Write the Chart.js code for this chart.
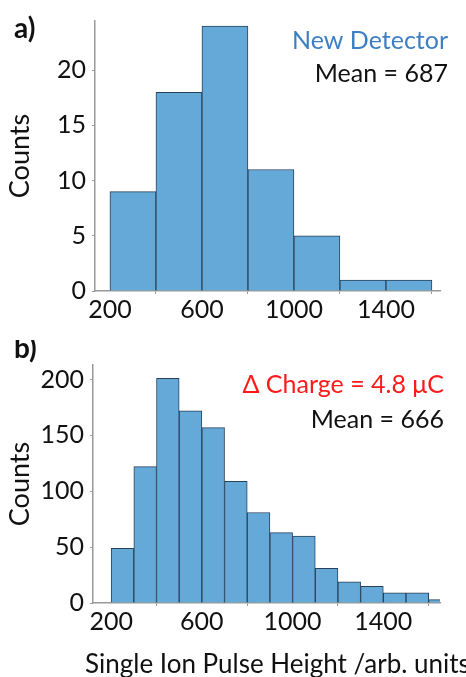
<!DOCTYPE html>
<html>
<head>
<meta charset="utf-8">
<script src="https://cdn.jsdelivr.net/npm/chart.js@4"></script>
<style>
  body { margin: 0; background: #fff; }
  #wrap { position: relative; width: 466px; height: 677px; overflow: hidden; }
  .box { position: absolute; left: 0; width: 466px; }
</style>
</head>
<body>
<div id="wrap">
  <div class="box" style="top:0;height:330px"><canvas id="chartA"></canvas></div>
  <div class="box" style="top:340px;height:337px"><canvas id="chartB"></canvas></div>
</div>
<script>
// a) new detector, bins 200 wide
const binCentersA = [300, 500, 700, 900, 1100, 1300, 1500]
const countsA = [9, 18, 24, 11, 5, 1, 1]
const yTicksA = [0, 5, 10, 15, 20]

// b) delta charge = 4.8 uC, bins 100 wide
const binCentersB = [250, 350, 450, 550, 650, 750, 850, 950, 1050, 1150, 1250, 1350, 1450, 1550, 1650]
const countsB = [49, 122, 201, 172, 157, 109, 81, 63, 60, 31, 19, 15, 9, 9, 3]
const yTicksB = [0, 50, 100, 150, 200]

const xTicks = [200, 600, 1000, 1400]

const FONT = 'Lato, "Open Sans", sans-serif'
const FILL = '#65a9d8'
const EDGE = '#27435c'
const AXIS = '#9a9a9a'

// draws free text (panel letter, notes, x title) on the canvas
const notesPlugin = {
  id: 'notes',
  afterDraw(chart, args, opts) {
    const ctx = chart.ctx
    ctx.save()
    ctx.textBaseline = 'middle';
    (opts.items || []).forEach(t => {
      ctx.font = t.font
      ctx.fillStyle = t.color
      ctx.textAlign = t.align || 'left'
      ctx.fillText(t.text, t.x, t.y)
    })
    ctx.restore()
  }
}

function makeHist(id, centers, counts, cfg) {
  const data = {
    datasets: [{
      data: centers.map((c, i) => ({ x: c, y: counts[i] })),
      backgroundColor: FILL,
      borderColor: EDGE,
      borderWidth: 1,
      barPercentage: 1,
      categoryPercentage: 1
    }]
  }
  const config = {
    type: 'bar',
    data: data,
    options: {
      responsive: true,
      maintainAspectRatio: false,
      animation: false,
      layout: { padding: { left: 0, right: 26, top: cfg.top, bottom: 0 } },
      plugins: {
        legend: { display: false },
        tooltip: { enabled: false },
        notes: { items: cfg.notes }
      },
      scales: {
        x: {
          type: 'linear',
          min: cfg.xMin,
          max: cfg.xMax,
          offset: false,
          afterBuildTicks: s => { s.ticks = xTicks.map(v => ({ value: v })) },
          afterFit: s => { s.height = cfg.xHeight },
          grid: { drawOnChartArea: false, drawTicks: true, tickLength: 3, color: AXIS },
          border: { color: AXIS, width: 1.5 },
          ticks: {
            color: '#111', font: { family: FONT, size: 25 }, padding: 1, maxRotation: 0,
            callback: v => String(v)
          }
        },
        y: {
          min: 0,
          max: cfg.yMax,
          afterBuildTicks: s => { s.ticks = cfg.yTicks.map(v => ({ value: v })) },
          afterFit: s => { s.width = cfg.yWidth },
          grid: { drawOnChartArea: false, drawTicks: true, tickLength: 3, color: AXIS },
          border: { color: AXIS, width: 1.5 },
          ticks: { color: '#111', font: { family: FONT, size: 25 }, padding: 6 },
          title: {
            display: true,
            text: 'Counts',
            color: '#111',
            font: { family: FONT, size: 27 },
            padding: { top: 4, bottom: 0 }
          }
        }
      }
    },
    plugins: [notesPlugin]
  }
  return new Chart(document.getElementById(id), config)
}

makeHist('chartA', binCentersA, countsA, {
  top: 18, xHeight: 39, yWidth: 95,
  xMin: 135, xMax: 1635, yMax: 24.45, yTicks: yTicksA,
  notes: [
    { text: 'a)', x: 14, y: 29, font: 'bold 28px ' + FONT, color: '#111' },
    { text: 'New Detector', x: 448, y: 41, font: '25px ' + FONT, color: '#3d7fc4', align: 'right' },
    { text: 'Mean = 687', x: 448, y: 74, font: '25px ' + FONT, color: '#111', align: 'right' }
  ]
})

makeHist('chartB', binCentersB, countsB, {
  top: 25, xHeight: 74, yWidth: 93,
  xMin: 120, xMax: 1650, yMax: 213, yTicks: yTicksB,
  notes: [
    { text: 'b)', x: 14, y: 9, font: 'bold 28px ' + FONT, color: '#111' },
    { text: 'Δ Charge = 4.8 μC', x: 444, y: 45, font: '25px ' + FONT, color: '#ff1a1a', align: 'right' },
    { text: 'Mean = 666', x: 444, y: 80, font: '25px ' + FONT, color: '#111', align: 'right' },
    { text: 'Single Ion Pulse Height /arb. units', x: 85, y: 325, font: '26px ' + FONT, color: '#111' }
  ]
})
</script>
</body>
</html>
